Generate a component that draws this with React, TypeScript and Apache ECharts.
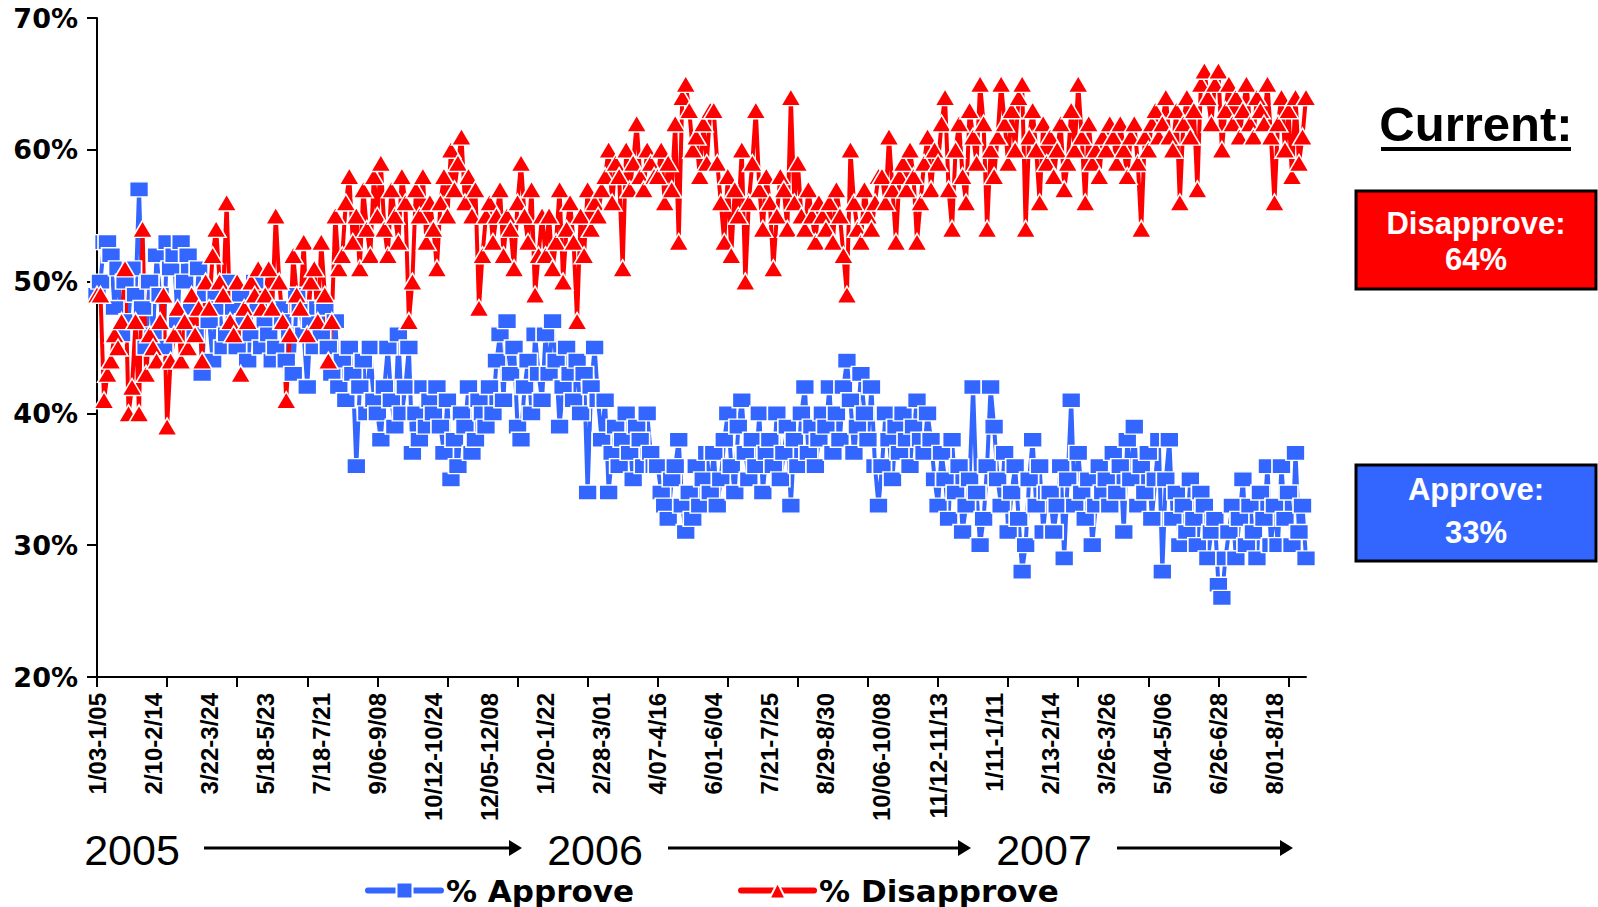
import React, { useEffect, useRef } from "react";
import * as echarts from "echarts";

const tickLabels = [
  "1/03-1/05", "2/10-2/14", "3/22-3/24", "5/18-5/23", "7/18-7/21", "9/06-9/08",
  "10/12-10/24", "12/05-12/08", "1/20-1/22", "2/28-3/01", "4/07-4/16", "6/01-6/04",
  "7/21-7/25", "8/29-8/30", "10/06-10/08", "11/12-11/13", "1/11-1/11", "2/13-2/14",
  "3/26-3/26", "5/04-5/06", "6/26-6/28", "8/01-8/18",
];
const labelEvery = 16;

const approve = [
  49, 50, 53, 53, 52, 48, 51, 46, 50, 47, 51, 49, 57, 48, 45, 50,
  46, 52, 49, 45, 53, 51, 52, 47, 53, 50, 52, 48, 46, 51, 43, 49,
  47, 44, 49, 48, 45, 46, 50, 48, 45, 49, 47, 44, 46, 50, 48, 45,
  47, 46, 44, 45, 48, 47, 44, 46, 43, 49, 48, 46, 42, 47, 45, 48,
  46, 48, 45, 43, 47, 42, 44, 41, 45, 43, 36, 42, 44, 40, 45, 41,
  40, 38, 42, 45, 41, 39, 46, 40, 42, 45, 37, 40, 38, 42, 39, 41,
  40, 42, 39, 37, 41, 35, 38, 36, 40, 39, 42, 37, 38, 41, 40, 39,
  42, 40, 44, 46, 41, 47, 43, 45, 39, 38, 42, 44, 40, 46, 43, 41,
  46, 43, 47, 44, 39, 42, 45, 43, 41, 44, 40, 43, 34, 42, 45, 41,
  38, 41, 34, 37, 39, 36, 38, 40, 37, 35, 39, 38, 36, 40, 37, 36,
  36, 34, 33, 32, 35, 36, 38, 33, 31, 34, 32, 36, 33, 35, 37, 34,
  37, 33, 35, 38, 40, 36, 34, 39, 41, 37, 35, 38, 36, 40, 34, 37,
  38, 36, 40, 35, 37, 39, 33, 38, 36, 40, 42, 37, 39, 36, 38, 40,
  39, 42, 37, 40, 38, 42, 44, 41, 37, 39, 43, 40, 38, 42, 36, 33,
  36, 40, 38, 35, 39, 37, 40, 38, 36, 39, 41, 38, 37, 40, 38, 35,
  33, 37, 35, 32, 38, 34, 36, 31, 33, 35, 42, 34, 30, 32, 36, 42,
  39, 35, 33, 37, 31, 34, 36, 32, 28, 30, 35, 38, 33, 36, 31, 34,
  34, 31, 33, 36, 29, 35, 41, 33, 37, 34, 32, 35, 30, 33, 36, 34,
  35, 33, 37, 34, 36, 31, 38, 35, 39, 33, 36, 34, 37, 32, 35, 38,
  28, 35, 38, 32, 34, 30, 33, 31, 35, 32, 30, 34, 33, 29, 31, 32,
  27, 26, 29, 31, 33, 29, 32, 35, 30, 33, 31, 29, 34, 32, 36, 30,
  33, 30, 36, 32, 34, 30, 37, 31, 33, 29,
];

const disapprove = [
  49, 49, 41, 43, 44, 46, 45, 47, 51, 40, 42, 47, 40, 54, 43, 46,
  45, 44, 47, 49, 39, 44, 46, 48, 44, 47, 45, 49, 46, 48, 44, 50,
  48, 52, 54, 50, 49, 56, 47, 46, 50, 43, 48, 47, 50, 49, 51, 48,
  49, 51, 48, 55, 50, 47, 41, 46, 52, 49, 48, 53, 46, 50, 51, 47,
  53, 49, 44, 47, 55, 51, 52, 56, 58, 53, 55, 51, 57, 54, 52, 58,
  55, 59, 54, 52, 57, 55, 53, 58, 56, 47, 50, 57, 55, 58, 53, 56,
  54, 51, 56, 58, 55, 60, 57, 59, 61, 56, 58, 55, 57, 48, 52, 55,
  56, 53, 55, 57, 52, 55, 54, 51, 56, 59, 55, 53, 57, 49, 52, 55,
  52, 55, 51, 53, 57, 50, 54, 56, 53, 47, 55, 52, 57, 54, 56, 55,
  57, 58, 60, 56, 59, 58, 51, 60, 57, 59, 62, 58, 57, 60, 59, 58,
  58, 60, 56, 59, 57, 62, 53, 64, 65, 63, 60, 61, 58, 62, 59, 63,
  63, 59, 56, 53, 58, 52, 57, 55, 60, 50, 56, 59, 63, 57, 54, 58,
  56, 51, 55, 58, 57, 54, 64, 56, 59, 55, 54, 57, 55, 53, 56, 55,
  54, 56, 53, 57, 55, 52, 49, 60, 56, 54, 53, 57, 55, 54, 56, 58,
  58, 56, 61, 57, 53, 58, 59, 57, 60, 58, 53, 56, 59, 61, 57, 60,
  59, 62, 64, 57, 54, 60, 62, 58, 56, 63, 61, 59, 65, 62, 54, 60,
  58, 61, 65, 62, 59, 63, 60, 64, 65, 54, 61, 63, 60, 56, 62, 59,
  61, 58, 60, 62, 57, 59, 63, 60, 65, 61, 56, 62, 59, 60, 58, 61,
  60, 62, 61, 59, 62, 60, 58, 61, 62, 59, 54, 61, 60, 62, 63, 61,
  62, 64, 61, 60, 63, 56, 62, 64, 61, 63, 57, 65, 66, 64, 62, 65,
  66, 60, 63, 65, 62, 64, 61, 63, 65, 62, 61, 64, 63, 62, 65, 61,
  56, 62, 64, 60, 63, 58, 64, 59, 61, 64,
];

const yearLabels = ["2005", "2006", "2007"];
const currentDisapprove = "64%";
const currentApprove = "33%";

const BLUE = "#3366FF";
const RED = "#FF0000";

export default function App() {
  const ref = useRef<HTMLDivElement>(null);
  useEffect(() => {
    if (!ref.current) return;
    const chart = echarts.init(ref.current, undefined, { renderer: "svg" });
    const n = Math.max(approve.length, disapprove.length);
    const categories: string[] = [];
    for (let i = 0; i < n; i++) {
      categories.push(i % labelEvery === 0 && tickLabels[i / labelEvery] ? tickLabels[i / labelEvery] : "#" + i);
    }
    const arrow = (x1: number, x2: number, y: number) => [
      { type: "line", shape: { x1, y1: y, x2: x2 - 10, y2: y }, style: { stroke: "#000", lineWidth: 3 } },
      { type: "polygon", shape: { points: [[x2, y], [x2 - 13, y - 8], [x2 - 13, y + 8]] }, style: { fill: "#000" } },
    ];
    const yearText = (t: string, x: number) => ({
      type: "text", x, y: 850,
      style: { text: t, fill: "#000", font: "43px 'Liberation Sans', Arial, sans-serif", lineHeight: 36, textAlign: "center", textVerticalAlign: "middle" },
    });
    const boxText = (t: string, y: number) => ({
      type: "text", x: 1476, y,
      style: { text: t, fill: "#fff", font: "bold 31px 'Liberation Sans', Arial, sans-serif", textAlign: "center", textVerticalAlign: "middle" },
    });
    chart.setOption({
      animation: false,
      backgroundColor: "#fff",
      grid: { left: 97, right: 292, top: 18, bottom: 230, containLabel: false },
      xAxis: {
        type: "category",
        data: categories,
        boundaryGap: false,
        axisLine: { lineStyle: { color: "#000", width: 2 } },
        axisTick: { show: true, interval: 19, length: 10, lineStyle: { color: "#000", width: 2 } },
        axisLabel: {
          interval: labelEvery - 1,
          rotate: 90,
          margin: 16,
          color: "#000",
          fontSize: 24,
          fontWeight: "bold",
          fontFamily: "'Liberation Sans', Arial, sans-serif",
        },
        splitLine: { show: false },
      },
      yAxis: {
        type: "value",
        min: 20,
        max: 70,
        interval: 10,
        axisLine: { show: true, lineStyle: { color: "#000", width: 2 } },
        axisTick: { show: true, length: 10, lineStyle: { color: "#000", width: 2 } },
        axisLabel: {
          formatter: "{value}%",
          margin: 19,
          color: "#000",
          fontSize: 27,
          fontWeight: "bold",
          fontFamily: "'DejaVu Sans', sans-serif",
        },
        splitLine: { show: false },
      },
      legend: {
        left: 365,
        top: 875,
        padding: 0,
        itemWidth: 73,
        itemHeight: 20,
        itemGap: 104,
        textStyle: { color: "#000", fontSize: 31, fontWeight: "bold", fontFamily: "'DejaVu Sans', sans-serif", lineHeight: 30 },
        lineStyle: { width: 6, cap: "round" },
        data: ["% Approve", "% Disapprove"],
      },
      series: [
        {
          name: "% Approve",
          type: "line",
          data: approve,
          symbol: "rect",
          symbolSize: [19, 15],
          showAllSymbol: true,
          itemStyle: { color: BLUE, borderColor: "#fff", borderWidth: 1.5 },
          lineStyle: { color: BLUE, width: 4 },
        },
        {
          name: "% Disapprove",
          type: "line",
          data: disapprove,
          symbol: "triangle",
          symbolSize: [20, 17],
          showAllSymbol: true,
          itemStyle: { color: RED, borderColor: "#fff", borderWidth: 1.5 },
          lineStyle: { color: RED, width: 4 },
        },
      ],
      graphic: [
        {
          type: "text", x: 1476, y: 124,
          style: { text: "Current:", fill: "#000", font: "bold 49px 'Liberation Sans', Arial, sans-serif", textAlign: "center", textVerticalAlign: "middle" },
        },
        { type: "rect", shape: { x: 1381, y: 147, width: 190, height: 4 }, style: { fill: "#000" } },
        { type: "rect", shape: { x: 1356, y: 191, width: 240, height: 98 }, style: { fill: RED, stroke: "#000", lineWidth: 3 } },
        boxText("Disapprove:", 223),
        boxText(currentDisapprove, 259),
        { type: "rect", shape: { x: 1356, y: 465, width: 240, height: 96 }, style: { fill: BLUE, stroke: "#000", lineWidth: 3 } },
        boxText("Approve:", 489),
        boxText(currentApprove, 532),
        yearText(yearLabels[0], 132),
        yearText(yearLabels[1], 595),
        yearText(yearLabels[2], 1044),
        ...arrow(204, 522, 848),
        ...arrow(668, 971, 848),
        ...arrow(1117, 1293, 848),
      ],
    });
    return () => chart.dispose();
  }, []);
  return <div ref={ref} style={{ position: "fixed", left: 0, top: 0, width: 1598, height: 907 }} />;
}
